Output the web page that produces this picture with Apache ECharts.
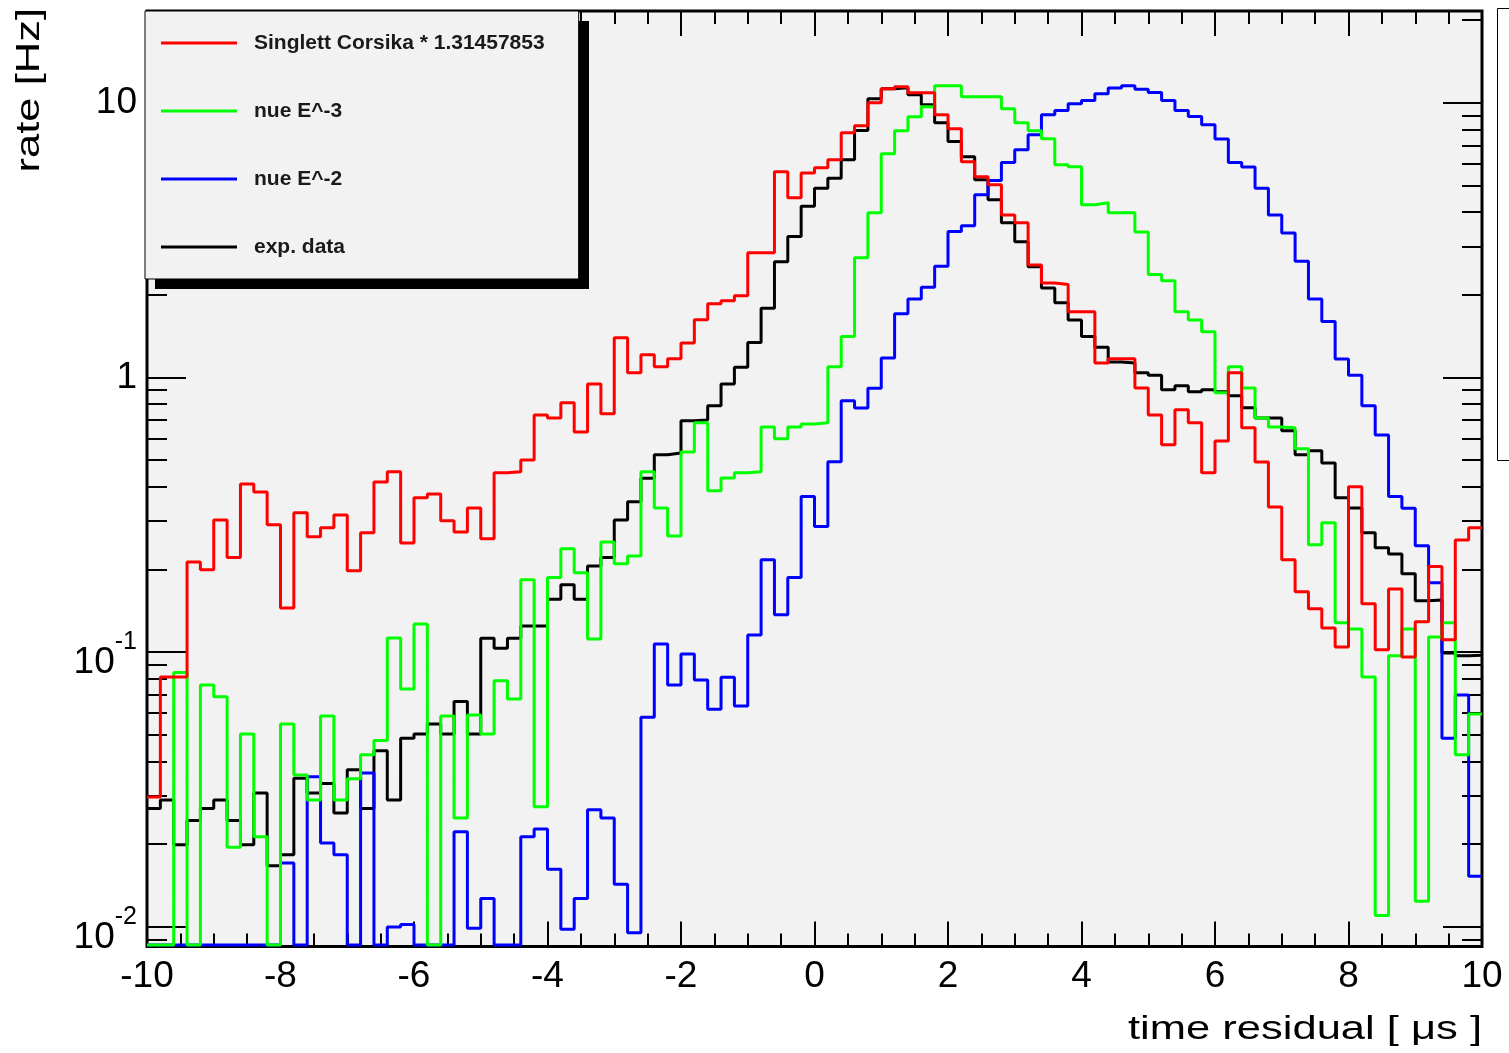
<!DOCTYPE html>
<html>
<head>
<meta charset="utf-8">
<title>time residual</title>
<script src="https://cdn.jsdelivr.net/npm/echarts@6/dist/echarts.min.js"></script>
<style>
  html, body { margin: 0; padding: 0; background: #ffffff; }
  #chart { width: 1509px; height: 1053px; }
</style>
</head>
<body>
<div id="chart"></div>
<script>
// Histogram binning: 100 bins of 0.2 µs from -10 to 10
const BIN_LOW = -10;
const BIN_WIDTH = 0.2;

// Rate per bin [Hz]; 0 means an empty bin
const singlettCorsika = [
  0.0297, 0.0813, 0.0813, 0.213, 0.1995, 0.303, 0.221, 0.410, 0.383, 0.291,
  0.145, 0.322, 0.263, 0.284, 0.316, 0.198, 0.272, 0.417, 0.454, 0.250,
  0.365, 0.377, 0.301, 0.274, 0.335, 0.259, 0.450, 0.454, 0.501, 0.731,
  0.713, 0.809, 0.634, 0.948, 0.738, 1.395, 1.04, 1.21, 1.094, 1.17,
  1.337, 1.622, 1.855, 1.902, 1.984, 2.845, 2.845, 5.61, 4.51, 5.56,
  5.80, 6.21, 7.78, 8.26, 10.0, 11.25, 11.45, 10.88, 10.88, 9.05,
  8.05, 6.10, 5.38, 5.03, 3.91, 3.66, 2.57, 2.21, 2.18, 1.735,
  1.735, 1.13, 1.17, 1.17, 0.917, 0.731, 0.569, 0.763, 0.684, 0.450,
  0.588, 1.04, 0.656, 0.493, 0.338, 0.217, 0.166, 0.144, 0.1226, 0.1045,
  0.400, 0.150, 0.102, 0.170, 0.0961, 0.129, 0.205, 0.111, 0.256, 0.284
];

const nueE3 = [
  0, 0, 0.0843, 0, 0.0760, 0.0689, 0.0195, 0.0504, 0.0213, 0,
  0.0548, 0.0357, 0.0290, 0.0586, 0.0290, 0.0346, 0.0423, 0.0477, 0.1127, 0.0735,
  0.1268, 0, 0.0586, 0.0249, 0.0591, 0.0504, 0.0788, 0.0676, 0.1834, 0.0274,
  0.187, 0.238, 0.1945, 0.1118, 0.252, 0.210, 0.224, 0.454, 0.335, 0.265,
  0.536, 0.684, 0.387, 0.431, 0.450, 0.454, 0.661, 0.598, 0.661, 0.678,
  0.684, 1.094, 1.41, 2.73, 3.98, 6.53, 7.91, 8.90, 9.68, 11.54,
  11.54, 10.52, 10.52, 10.52, 9.52, 8.46, 7.91, 7.40, 5.95, 5.85,
  4.26, 4.33, 3.98, 3.98, 3.39, 2.37, 2.25, 1.735, 1.62, 1.467,
  0.880, 1.094, 0.917, 0.713, 0.661, 0.656, 0.550, 0.246, 0.296, 0.128,
  0.1216, 0.0813, 0.0110, 0.097, 0.1216, 0.0124, 0.1137, 0.128, 0.0423, 0.0596
];

const nueE2 = [
  0, 0, 0, 0, 0, 0, 0, 0, 0, 0,
  0.0171, 0, 0.0352, 0.0202, 0.0183, 0, 0.0363, 0, 0.0100, 0.0102,
  0, 0, 0, 0.0222, 0.00989, 0.0127, 0, 0, 0.0213, 0.0227,
  0.0162, 0.0098, 0.0127, 0.0267, 0.0249, 0.0143, 0.00953, 0.0580, 0.1072, 0.0760,
  0.0986, 0.0793, 0.0620, 0.0811, 0.0637, 0.1156, 0.217, 0.137, 0.187, 0.369,
  0.287, 0.494, 0.823, 0.774, 0.915, 1.177, 1.706, 1.93, 2.13, 2.54,
  3.40, 3.57, 4.63, 5.22, 6.07, 6.75, 7.65, 9.05, 9.38, 9.93,
  10.2, 10.8, 11.32, 11.54, 11.22, 10.91, 10.2, 9.38, 8.92, 8.32,
  7.38, 6.07, 5.84, 4.89, 3.91, 3.36, 2.65, 1.93, 1.60, 1.167,
  1.02, 0.789, 0.618, 0.369, 0.334, 0.244, 0.179, 0.0486, 0.0699, 0.0153
];

const expData = [
  0.0270, 0.0290, 0.0199, 0.0244, 0.0270, 0.0290, 0.0244, 0.0199, 0.0307, 0.0167,
  0.0183, 0.0348, 0.0307, 0.0333, 0.0260, 0.0373, 0.0270, 0.0438, 0.0290, 0.0486,
  0.0504, 0.0548, 0.0504, 0.0661, 0.0504, 0.1125, 0.1034, 0.1125, 0.1247, 0.1247,
  0.156, 0.176, 0.156, 0.206, 0.221, 0.303, 0.353, 0.430, 0.523, 0.531,
  0.696, 0.701, 0.789, 0.948, 1.091, 1.341, 1.789, 2.64, 3.26, 4.20,
  4.89, 5.32, 6.21, 7.93, 10.35, 11.25, 11.35, 10.7, 9.84, 8.46,
  7.24, 6.36, 5.25, 4.44, 3.66, 3.12, 2.53, 2.12, 1.87, 1.62,
  1.41, 1.29, 1.14, 1.13, 1.04, 1.02, 0.902, 0.933, 0.887, 0.902,
  0.887, 0.858, 0.776, 0.713, 0.713, 0.640, 0.523, 0.541, 0.489, 0.365,
  0.335, 0.272, 0.240, 0.228, 0.193, 0.154, 0.155, 0.0994, 0.097, 0.0975
];

// Legend labels
const seriesNames = ['Singlett Corsika * 1.31457853', 'nue E^-3', 'nue E^-2', 'exp. data'];

// Axis ranges and tick values
const X_MIN = -10, X_MAX = 10, X_STEP = 2;
const Y_MIN = 0.008484, Y_MAX = 21.6;
const yMajorTicks = [0.01, 0.1, 1, 10];
const yMinorTicks = [
  0.009,
  0.02, 0.03, 0.04, 0.05, 0.06, 0.07, 0.08, 0.09,
  0.2, 0.3, 0.4, 0.5, 0.6, 0.7, 0.8, 0.9,
  2, 3, 4, 5, 6, 7, 8, 9,
  20
];
// Empty bins sit on the bottom of the log frame
const EMPTY_BIN = 0.0086;

const FONT = '"Liberation Sans", Arial, Helvetica, sans-serif';

// Turn per-bin contents into the outline of a step histogram
function histogramOutline(values) {
  const pts = values.map((v, i) => [+(BIN_LOW + i * BIN_WIDTH).toFixed(3), v > 0 ? v : EMPTY_BIN]);
  const last = values[values.length - 1];
  pts.push([+(BIN_LOW + values.length * BIN_WIDTH).toFixed(3), last > 0 ? last : EMPTY_BIN]);
  return pts;
}

function histSeries(name, values, color) {
  return {
    name: name,
    type: 'line',
    step: 'end',
    data: histogramOutline(values),
    xAxisIndex: 0,
    yAxisIndex: 0,
    symbol: 'none',
    showSymbol: false,
    color: color,
    itemStyle: { color: color },
    lineStyle: { color: color, width: 3 },
    emphasis: { disabled: true },
    animation: false
  };
}

const tickLine = { color: '#000', width: 2 };

function xAxisDef(position, showLabels) {
  return {
    type: 'value',
    position: position,
    min: X_MIN,
    max: X_MAX,
    interval: X_STEP,
    axisLine: { show: false, onZero: false },
    splitLine: { show: false },
    axisTick: { show: true, inside: true, length: 25, lineStyle: tickLine },
    minorTick: { show: true, splitNumber: 4, length: 13, lineStyle: tickLine },
    axisLabel: {
      show: showLabels,
      fontFamily: FONT,
      fontSize: 37,
      color: '#000',
      margin: 12
    }
  };
}

function yAxisDef(position, ticks, tickLength, showLabels) {
  const axis = {
    type: 'log',
    logBase: 10,
    position: position,
    min: Y_MIN,
    max: Y_MAX,
    axisLine: { show: false, onZero: false },
    splitLine: { show: false },
    minorTick: { show: false },
    axisTick: { show: true, inside: true, length: tickLength, customValues: ticks, lineStyle: tickLine },
    axisLabel: { show: false }
  };
  if (showLabels) {
    axis.axisLabel = {
      show: true,
      customValues: yMajorTicks,
      fontFamily: FONT,
      fontSize: 37,
      color: '#000',
      margin: 10,
      formatter: function (v) {
        const e = Math.round(Math.log10(v));
        if (e === 0) return '1';
        if (e === 1) return '10';
        return '{b|10}{s|' + e + '}';
      },
      rich: {
        b: { fontFamily: FONT, fontSize: 37, color: '#000', lineHeight: 40, padding: [22, 0, 0, 0] },
        s: { fontFamily: FONT, fontSize: 25, color: '#000', lineHeight: 26, padding: [0, 0, 20, 0] }
      }
    };
  }
  return axis;
}

const chart = echarts.init(document.getElementById('chart'), null, { renderer: 'canvas' });

chart.setOption({
  animation: false,
  backgroundColor: '#ffffff',
  grid: {
    left: 147,
    right: 27,
    top: 11,
    bottom: 106.5,
    show: true,
    backgroundColor: '#f2f2f2',
    borderColor: '#000',
    borderWidth: 3
  },
  xAxis: [
    xAxisDef('bottom', true),
    xAxisDef('top', false)
  ],
  yAxis: [
    yAxisDef('left', yMajorTicks, 39, true),
    yAxisDef('left', yMinorTicks, 20, false),
    yAxisDef('right', yMajorTicks, 39, false),
    yAxisDef('right', yMinorTicks, 20, false)
  ],
  legend: {
    data: seriesNames,
    orient: 'vertical',
    left: 145,
    top: 11,
    icon: 'rect',
    itemWidth: 76,
    itemHeight: 3,
    itemGap: 44,
    padding: [20, 34, 20, 16],
    backgroundColor: '#f2f2f2',
    borderColor: '#000',
    borderWidth: 1,
    selectedMode: false,
    textStyle: {
      fontFamily: FONT,
      fontWeight: 'bold',
      fontSize: 21,
      lineHeight: 24,
      color: '#1a1a1a',
      padding: [0, 0, 0, 12]
    }
  },
  graphic: [
    {
      // drop shadow behind the legend box
      type: 'rect',
      z: 3,
      silent: true,
      shape: { x: 155, y: 21, width: 434, height: 268 },
      style: { fill: '#000' }
    },
    {
      type: 'text',
      x: 1482,
      y: 1030,
      scaleX: 1.28,
      style: {
        text: 'time residual [ \u03bcs ]',
        font: '34px ' + FONT,
        fill: '#000',
        align: 'right',
        verticalAlign: 'middle',
        textAlign: 'right',
        textVerticalAlign: 'middle'
      }
    },
    {
      type: 'text',
      x: 30,
      y: 8,
      rotation: Math.PI / 2,
      scaleX: 1.28,
      style: {
        text: 'rate [Hz]',
        font: '34px ' + FONT,
        fill: '#000',
        align: 'right',
        verticalAlign: 'middle',
        textAlign: 'right',
        textVerticalAlign: 'middle'
      }
    },
    {
      type: 'rect',
      z: 10,
      shape: { x: 1497.5, y: 8.5, width: 30, height: 452 },
      style: { fill: '#ffffff', stroke: '#000', lineWidth: 1 }
    }
  ],
  series: [
    histSeries(seriesNames[3], expData, '#000000'),
    histSeries(seriesNames[2], nueE2, '#0000ff'),
    histSeries(seriesNames[1], nueE3, '#00ff00'),
    histSeries(seriesNames[0], singlettCorsika, '#ff0000')
  ]
});
</script>
</body>
</html>
